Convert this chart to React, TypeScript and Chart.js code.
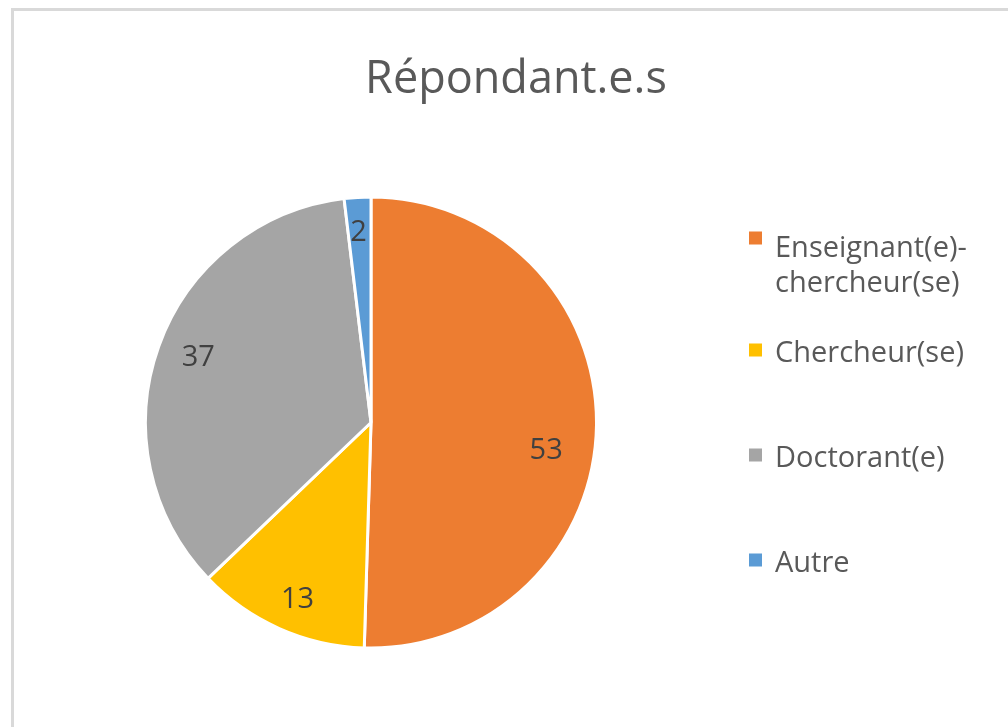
import React, { useEffect, useRef } from "react";
import { Chart, registerables } from "chart.js";

Chart.register(...registerables);

const TITLE = "Répondant.e.s";
const categories = ["Enseignant(e)-chercheur(se)", "Chercheur(se)", "Doctorant(e)", "Autre"];
const legendLines = [["Enseignant(e)-", "chercheur(se)"], ["Chercheur(se)"], ["Doctorant(e)"], ["Autre"]];
const values = [53, 13, 37, 2];
const colors = ["#ED7D31", "#FFC000", "#A5A5A5", "#5B9BD5"];
// small label nudges (px) relative to the computed in-slice position, mimicking Excel's best-fit placement
const labelNudge = [[-3, 24], [-1, 12], [-5, -7], [-1, 0]];

const FONT = "'Open Sans', 'Noto Sans', sans-serif";

const decorPlugin = {
  id: "decor",
  afterDraw(chart: any) {
    const ctx = chart.ctx as CanvasRenderingContext2D;
    ctx.save();
    // frame
    ctx.strokeStyle = "#D9D9D9";
    ctx.lineWidth = 3;
    ctx.strokeRect(12.5, 9.5, 1100, 800);
    // title
    ctx.fillStyle = "#595959";
    ctx.font = `45px ${FONT}`;
    ctx.textAlign = "center";
    ctx.textBaseline = "alphabetic";
    ctx.fillText(TITLE, 516, 93);
    // data labels
    const meta = chart.getDatasetMeta(0);
    const total = values.reduce((a, b) => a + b, 0);
    ctx.fillStyle = "#404040";
    ctx.font = `29px ${FONT}`;
    ctx.textBaseline = "middle";
    meta.data.forEach((arc: any, i: number) => {
      const p = arc.getProps(["x", "y", "startAngle", "endAngle", "outerRadius"], true);
      const mid = (p.startAngle + p.endAngle) / 2;
      const f = values[i] / total < 0.05 ? 0.85 : 0.79;
      const x = p.x + Math.cos(mid) * p.outerRadius * f + labelNudge[i][0];
      const y = p.y + Math.sin(mid) * p.outerRadius * f + labelNudge[i][1];
      ctx.fillText(String(values[i]), x, y + 2);
    });
    // legend
    ctx.font = `29px ${FONT}`;
    ctx.textAlign = "left";
    ctx.textBaseline = "alphabetic";
    const firstBaseline = 257;
    const pitch = 105;
    const lineH = 35;
    legendLines.forEach((lines, i) => {
      const base = firstBaseline + i * pitch;
      ctx.fillStyle = colors[i];
      const sqCenter = base - 12 - (lines.length - 1) * 7;
      ctx.fillRect(749, sqCenter - 6.5, 13, 13);
      ctx.fillStyle = "#595959";
      lines.forEach((t, j) => ctx.fillText(t, 775, base + j * lineH));
    });
    ctx.restore();
  },
};

export default function App() {
  const ref = useRef<HTMLCanvasElement>(null);
  useEffect(() => {
    if (!ref.current) return;
    const chart = new Chart(ref.current, {
      type: "pie",
      data: {
        labels: categories,
        datasets: [
          {
            data: values,
            backgroundColor: colors,
            borderColor: "#FFFFFF",
            borderWidth: 3,
          },
        ],
      },
      options: {
        responsive: false,
        animation: false,
        layout: { padding: { left: 144, right: 1008 - 598, top: 195, bottom: 727 - 650 } },
        plugins: {
          legend: { display: false },
          title: { display: false },
          tooltip: { enabled: false },
        },
      },
      plugins: [decorPlugin],
    });
    return () => chart.destroy();
  }, []);
  return (
    <canvas
      ref={ref}
      width={1008}
      height={727}
      style={{ position: "absolute", left: 0, top: 0, width: 1008, height: 727, background: "#FFFFFF" }}
    />
  );
}
